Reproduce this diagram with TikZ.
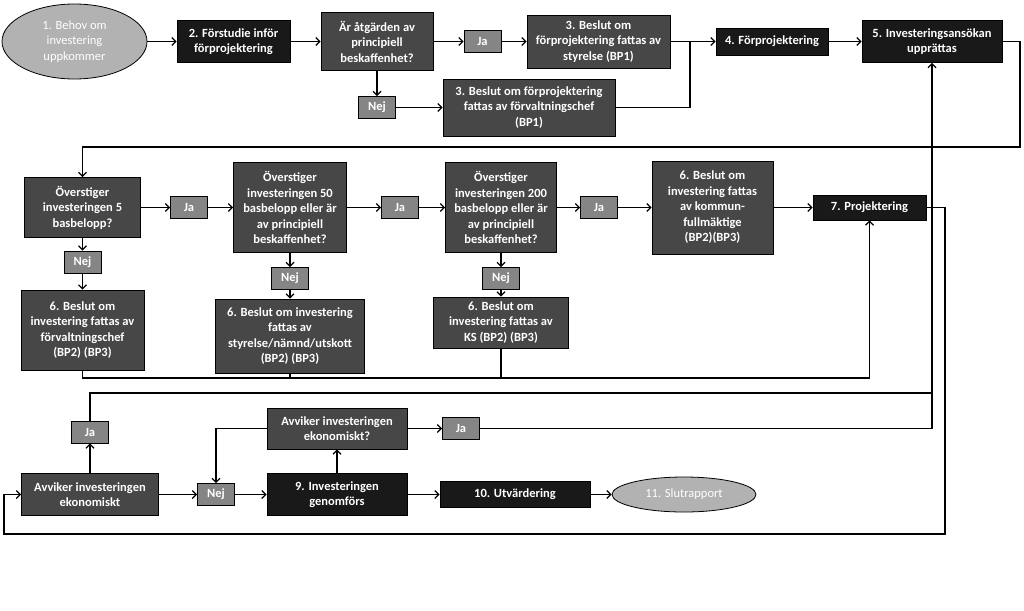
\documentclass[tikz,border=0pt]{standalone}
\usepackage{fontspec}
\setmainfont{Carlito}
\usetikzlibrary{shapes.geometric,arrows.meta}

\begin{document}
\begin{tikzpicture}[x=1pt,y=-1pt,line width=1.2pt,>={Straight Barb[length=4pt,width=8pt]},
    box/.style={draw=black,line width=0.8pt,text=white,align=center,inner sep=0pt,
        font=\bfseries\fontsize{12.5}{15.5}\selectfont},
    blk/.style={box,fill=black!90},
    dgr/.style={box,fill=black!72},
    ans/.style={box,fill=black!48,minimum width=37,minimum height=22},
    oval/.style={box,ellipse,fill=black!30,font=\fontsize{12.5}{15.5}\selectfont}]
    \useasboundingbox (0,0) rectangle (1024,610);
    \node[oval,minimum width=145,minimum height=75] (n1) at (74.5,41.5) {1. Behov om\\investering\\uppkommer};
    \node[blk,minimum width=113,minimum height=42] (n2) at (233.5,41.5) {2. Förstudie inför\\förprojektering};
    \node[dgr,minimum width=112,minimum height=58] (q1) at (377,41.5) {Är åtgärden av\\principiell\\beskaffenhet?};
    \node[ans] (ja1) at (482.5,41.5) {Ja};
    \node[dgr,minimum width=143,minimum height=53] (n3a) at (598.5,41.5) {3. Beslut om\\förprojektering fattas av\\styrelse (BP1)};
    \node[ans] (nej1) at (377,107.5) {Nej};
    \node[dgr,minimum width=172,minimum height=57] (n3b) at (529,107.5) {3. Beslut om förprojektering\\fattas av förvaltningschef\\(BP1)};
    \node[blk,minimum width=112,minimum height=27] (n4) at (772,41.5) {4. Förprojektering};
    \node[blk,minimum width=140,minimum height=42] (n5) at (932,41.5) {5. Investeringsansökan\\upprättas};

    \node[dgr,minimum width=116,minimum height=60] (q2) at (82.5,207.5) {Överstiger\\investeringen 5\\basbelopp?};
    \node[ans] (ja4) at (189,207.5) {Ja};
    \node[dgr,minimum width=113,minimum height=90] (q3) at (290,207.5) {Överstiger\\investeringen 50\\basbelopp eller är\\av principiell\\beskaffenhet?};
    \node[ans] (ja5) at (400,207.5) {Ja};
    \node[dgr,minimum width=111,minimum height=90] (q4) at (501,207.5) {Överstiger\\investeringen 200\\basbelopp eller är\\av principiell\\beskaffenhet?};
    \node[ans] (ja6) at (599,207.5) {Ja};
    \node[dgr,minimum width=121,minimum height=93] (n6d) at (712.5,207.5) {6. Beslut om\\investering fattas\\av kommun-\\fullmäktige\\(BP2)(BP3)};
    \node[blk,minimum width=113,minimum height=25] (n7) at (869.5,207.5) {7. Projektering};

    \node[ans] (nej2) at (82.5,262) {Nej};
    \node[dgr,minimum width=123,minimum height=80] (n6a) at (82.5,330) {6. Beslut om\\investering fattas av\\förvaltningschef\\(BP2) (BP3)};
    \node[ans] (nej3) at (290,278.5) {Nej};
    \node[dgr,minimum width=149,minimum height=74] (n6b) at (290,336) {6. Beslut om investering\\fattas av\\styrelse/nämnd/utskott\\(BP2) (BP3)};
    \node[ans] (nej4) at (501,278.5) {Nej};
    \node[dgr,minimum width=135,minimum height=51] (n6c) at (501,322.5) {6. Beslut om\\investering fattas av\\KS (BP2) (BP3)};

    \node[ans] (ja3) at (90,432) {Ja};
    \node[dgr,minimum width=137,minimum height=42] (av1) at (90,494.5) {Avviker investeringen\\ekonomiskt};
    \node[ans] (nej5) at (216,494.5) {Nej};
    \node[blk,minimum width=140,minimum height=42] (n9) at (337,494.5) {9. Investeringen\\genomförs};
    \node[dgr,minimum width=140,minimum height=41] (av2) at (337,428.5) {Avviker investeringen\\ekonomiskt?};
    \node[ans] (ja2) at (461,428.5) {Ja};
    \node[blk,minimum width=150,minimum height=26] (n10) at (515,494.5) {10. Utvärdering};
    \node[oval,minimum width=144,minimum height=35] (n11) at (684,494.5) {11. Slutrapport};

    \coordinate (j1) at (690,41.5);
    \coordinate (r1) at (1020,147);
    \coordinate (b1) at (869.5,378);
    \coordinate (r2) at (945,534);
    \coordinate (l2) at (4,534);
    \coordinate (t1) at (932,393);

    \draw[->] (n1) -- (n2);
    \draw[->] (n2) -- (q1);
    \draw[->] (q1) -- (ja1);
    \draw[->] (ja1) -- (n3a);
    \draw[->] (q1) -- (nej1);
    \draw[->] (nej1) -- (n3b);
    \draw (n3a) -- (j1);
    \draw (n3b.east) -| (j1);
    \draw[->] (j1) -- (n4);
    \draw[->] (n4) -- (n5);
    \draw[->] (n5.east) -| (r1) -| (q2.north);

    \draw[->] (q2) -- (ja4);
    \draw[->] (ja4) -- (q3);
    \draw[->] (q3) -- (ja5);
    \draw[->] (ja5) -- (q4);
    \draw[->] (q4) -- (ja6);
    \draw[->] (ja6) -- (n6d);
    \draw[->] (n6d) -- (n7);
    \draw[->] (q2) -- (nej2);
    \draw[->] (nej2) -- (n6a);
    \draw[->] (q3) -- (nej3);
    \draw[->] (nej3) -- (n6b);
    \draw[->] (q4) -- (nej4);
    \draw[->] (nej4) -- (n6c);
    \draw[->] (n6a.south) |- (b1) -- (n7.south);
    \draw (n6b.south) -- (n6b.south |- b1);
    \draw (n6c.south) -- (n6c.south |- b1);
    \draw[->] (n7.east) -| (r2) -- (l2) |- (av1.west);

    \draw[->] (av1) -- (ja3);
    \draw (ja3.north) |- (t1);
    \draw[->] (ja2.east) -| (t1) -- (n5.south);
    \draw[->] (av1) -- (nej5);
    \draw[->] (nej5) -- (n9);
    \draw[->] (n9) -- (av2);
    \draw[->] (av2.west) -| (nej5.north);
    \draw[->] (av2) -- (ja2);
    \draw[->] (n9) -- (n10);
    \draw[->] (n10) -- (n11);
\end{tikzpicture}
\end{document}
